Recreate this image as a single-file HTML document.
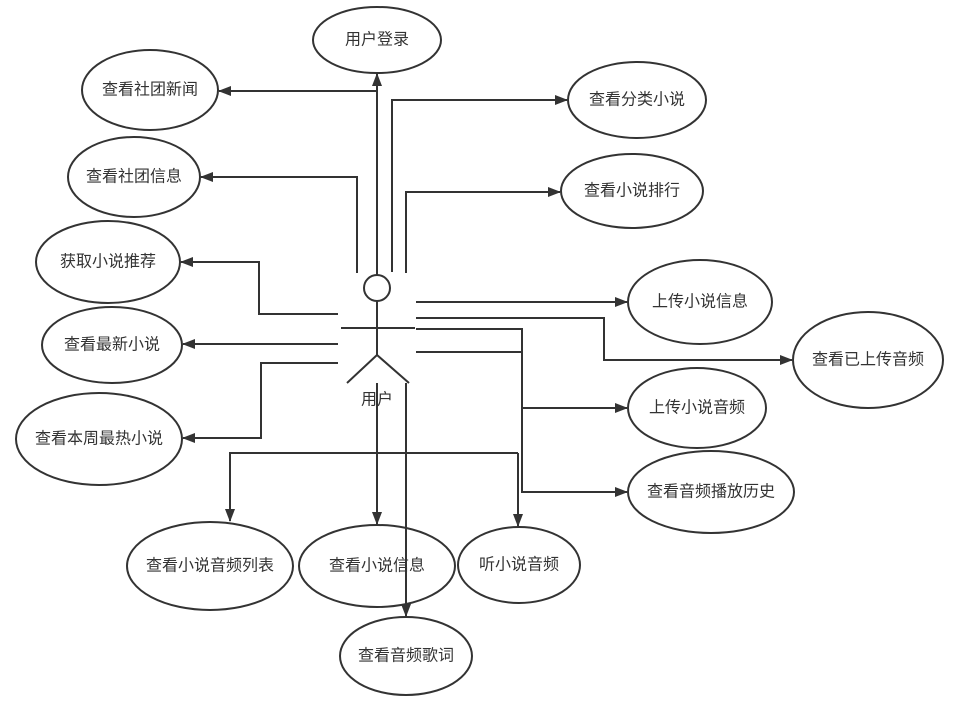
<!DOCTYPE html>
<html><head><meta charset="utf-8"><style>
html,body{margin:0;padding:0;background:#fff;}
svg{display:block;}
text{font-family:"Liberation Sans","Noto Sans CJK SC",sans-serif;font-size:16px;fill:#333;text-anchor:middle;dominant-baseline:central;}
</style></head><body>
<svg width="974" height="708" viewBox="0 0 974 708" xmlns="http://www.w3.org/2000/svg">
<defs>
<marker id="a" markerWidth="13" markerHeight="10" refX="12" refY="5" orient="auto" markerUnits="userSpaceOnUse">
<path d="M0,0 L13,5 L0,10 Z" fill="#333"/>
</marker>
</defs>
<g fill="none" stroke="#333" stroke-width="2">
<ellipse cx="377" cy="40" rx="64" ry="33"/>
<ellipse cx="150" cy="90" rx="68" ry="40"/>
<ellipse cx="134" cy="177" rx="66" ry="40"/>
<ellipse cx="108" cy="262" rx="72" ry="41"/>
<ellipse cx="112" cy="345" rx="70" ry="38"/>
<ellipse cx="99" cy="439" rx="83" ry="46"/>
<ellipse cx="637" cy="100" rx="69" ry="38"/>
<ellipse cx="632" cy="191" rx="71" ry="37"/>
<ellipse cx="700" cy="302" rx="72" ry="42"/>
<ellipse cx="868" cy="360" rx="75" ry="48"/>
<ellipse cx="697" cy="408" rx="69" ry="40"/>
<ellipse cx="711" cy="492" rx="83" ry="41"/>
<ellipse cx="210" cy="566" rx="83" ry="44"/>
<ellipse cx="377" cy="566" rx="78" ry="41"/>
<ellipse cx="519" cy="565" rx="61" ry="38"/>
<ellipse cx="406" cy="656" rx="66" ry="39"/>
<ellipse cx="377" cy="288" rx="13" ry="13"/>
<line x1="377" y1="301" x2="377" y2="355"/>
<line x1="341" y1="328" x2="415" y2="328"/>
<polyline points="347,383 377,355 409,383"/>
<polyline points="377,275 377,74" marker-end="url(#a)"/>
<polyline points="377,91 219,91" marker-end="url(#a)"/>
<polyline points="392,272 392,100 567,100" marker-end="url(#a)"/>
<polyline points="357,273 357,177 201,177" marker-end="url(#a)"/>
<polyline points="406,273 406,192 560,192" marker-end="url(#a)"/>
<polyline points="338,314 259,314 259,262 181,262" marker-end="url(#a)"/>
<polyline points="338,344 183,344" marker-end="url(#a)"/>
<polyline points="338,363 261,363 261,438 183,438" marker-end="url(#a)"/>
<polyline points="416,302 627,302" marker-end="url(#a)"/>
<polyline points="416,318 604,318 604,360 792,360" marker-end="url(#a)"/>
<polyline points="416,329 522,329 522,492 627,492" marker-end="url(#a)"/>
<polyline points="416,352 522,352"/>
<polyline points="522,408 627,408" marker-end="url(#a)"/>
<polyline points="377,383 377,524" marker-end="url(#a)"/>
<polyline points="518,453 230,453 230,521" marker-end="url(#a)"/>
<polyline points="518,453 518,526" marker-end="url(#a)"/>
<polyline points="406,383 406,616" marker-end="url(#a)"/>
</g>
<text x="377" y="40">用户登录</text>
<text x="150" y="90">查看社团新闻</text>
<text x="134" y="177">查看社团信息</text>
<text x="108" y="262">获取小说推荐</text>
<text x="112" y="345">查看最新小说</text>
<text x="99" y="439">查看本周最热小说</text>
<text x="637" y="100">查看分类小说</text>
<text x="632" y="191">查看小说排行</text>
<text x="700" y="302">上传小说信息</text>
<text x="868" y="360">查看已上传音频</text>
<text x="697" y="408">上传小说音频</text>
<text x="711" y="492">查看音频播放历史</text>
<text x="210" y="566">查看小说音频列表</text>
<text x="377" y="566">查看小说信息</text>
<text x="519" y="565">听小说音频</text>
<text x="406" y="656">查看音频歌词</text>
<text x="377" y="400">用户</text>
</svg>
</body></html>
